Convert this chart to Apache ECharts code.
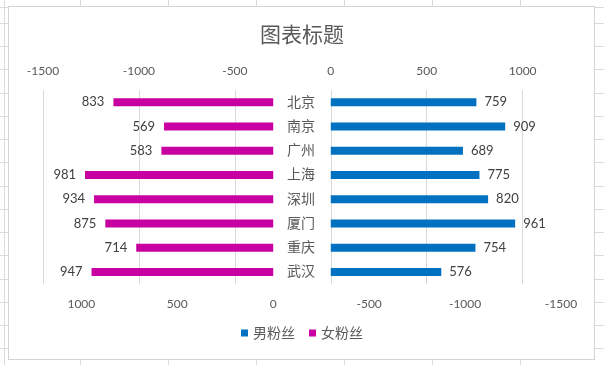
<!DOCTYPE html>
<html>
<head>
<meta charset="utf-8">
<script src="https://cdn.jsdelivr.net/npm/echarts@6/dist/echarts.min.js"></script>
<style>
html,body{margin:0;padding:0;}
body{width:604px;height:365px;position:relative;overflow:hidden;background-color:#fff;
background-image:repeating-linear-gradient(to right,#dadada 0,#dadada 1px,transparent 1px,transparent 88px),
repeating-linear-gradient(to bottom,#dadada 0,#dadada 1px,transparent 1px,transparent 23.25px);
background-position:80px 0,0 23px;}
#box{position:absolute;left:8px;top:6px;width:587px;height:354px;box-sizing:border-box;border:1px solid #d4d4d4;background:#fff;}
#chart{position:absolute;left:0;top:0;width:604px;height:365px;}
</style>
</head>
<body>
<div id="box"></div>
<div id="chart"></div>
<script>
const categories = ['北京','南京','广州','上海','深圳','厦门','重庆','武汉'];
const maleFans = [759, 909, 689, 775, 820, 961, 754, 576];
const femaleFans = [833, 569, 583, 981, 934, 875, 714, 947];
const seriesNames = ['男粉丝','女粉丝'];
const axisMin = -1500, axisMax = 1200, axisStep = 500;

const FONT = 'Lato, "Noto Sans CJK SC", sans-serif';
const plain = v => String(v);
const chart = echarts.init(document.getElementById('chart'), null, {renderer:'canvas'});
chart.setOption({
  backgroundColor: 'transparent',
  animation: false,
  title: {
    text: '图表标题', left: 'center', top: 20,
    textStyle: {color:'#595959', fontSize:21, fontWeight:'normal', fontFamily:FONT}
  },
  legend: {
    bottom: 20, left: 'center', itemWidth: 7, itemHeight: 7, itemGap: 14,
    icon: 'rect',
    textStyle: {color:'#595959', fontSize:14, fontFamily:FONT},
    data: seriesNames
  },
  grid: {left: 43, right: 43, top: 90, bottom: 81, containLabel: false},
  xAxis: [
    {
      type:'value', position:'top', min:axisMin, max:axisMax, interval:axisStep,
      axisLine:{show:false}, axisTick:{show:false},
      axisLabel:{color:'#595959', fontSize:12, fontFamily:FONT, margin:13, showMaxLabel:false, formatter:plain},
      splitLine:{show:true, showMaxLine:false, lineStyle:{color:'#d9d9d9', width:1}}
    },
    {
      type:'value', position:'bottom', inverse:true, min:axisMin, max:axisMax, interval:axisStep,
      axisLine:{show:false}, axisTick:{show:false},
      axisLabel:{color:'#595959', fontSize:12, fontFamily:FONT, margin:14, showMaxLabel:false, formatter:plain},
      splitLine:{show:false}
    }
  ],
  yAxis: {
    type:'category', inverse:true, data:categories,
    offset: -258,
    axisLine:{show:false}, axisTick:{show:false},
    axisLabel:{color:'#595959', fontSize:14, fontFamily:FONT, margin:0, align:'center'},
    splitLine:{show:false}
  },
  series: [
    {
      name: seriesNames[0], type:'bar', xAxisIndex:0, data:maleFans,
      barWidth: 8, barGap:'-100%',
      itemStyle:{color:'#0070C0'},
      label:{show:true, position:'right', distance:8, color:'#404040', fontSize:13, fontFamily:FONT}
    },
    {
      name: seriesNames[1], type:'bar', xAxisIndex:1, data:femaleFans,
      barWidth: 8, barGap:'-100%',
      itemStyle:{color:'#C800A1'},
      label:{show:true, position:'left', distance:9, color:'#404040', fontSize:13, fontFamily:FONT}
    }
  ]
});
</script>
</body>
</html>
